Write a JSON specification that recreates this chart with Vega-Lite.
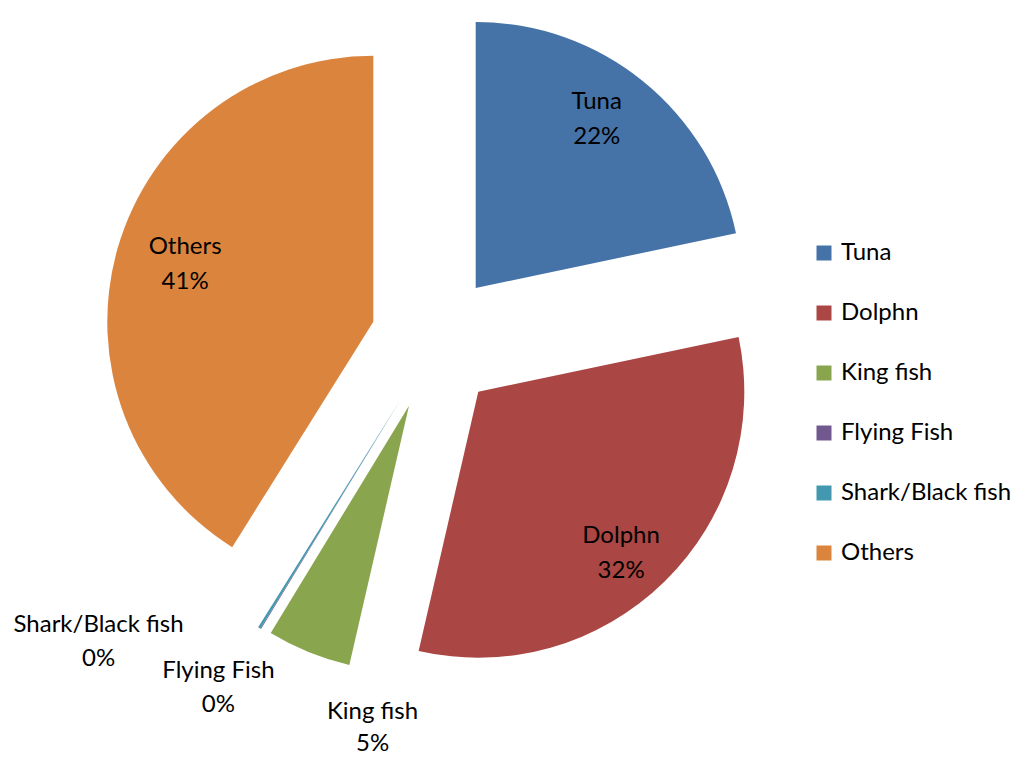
{
  "$schema": "https://vega.github.io/schema/vega-lite/v6.json",
  "width": 1018,
  "height": 757,
  "padding": 0,
  "autosize": {"type": "none"},
  "background": "white",
  "config": {
    "view": {"stroke": null},
    "text": {"font": "Lato", "fontSize": 24, "fill": "#000000"},
    "legend": {
      "orient": "none",
      "legendX": 812,
      "legendY": 241,
      "padding": 0,
      "symbolType": "square",
      "symbolSize": 225,
      "symbolStrokeWidth": 0,
      "symbolOpacity": 1,
      "labelFont": "Lato",
      "labelFontSize": 24,
      "labelColor": "#000000",
      "labelOffset": 5,
      "labelLimit": 400,
      "rowPadding": 36
    }
  },
  "data": {
    "values": [
      {"name": "Tuna", "share": 0.217, "order": 1},
      {"name": "Dolphn", "share": 0.319, "order": 2},
      {"name": "King fish", "share": 0.051, "order": 3},
      {"name": "Flying Fish", "share": 0.0005, "order": 4},
      {"name": "Shark/Black fish", "share": 0.0015, "order": 5},
      {"name": "Others", "share": 0.411, "order": 6}
    ]
  },
  "encoding": {
    "theta": {"field": "share", "type": "quantitative", "stack": true},
    "order": {"field": "order", "type": "quantitative"},
    "detail": {"field": "name", "type": "nominal"}
  },
  "layer": [
    {
      "mark": {"type": "arc", "outerRadius": 266, "xOffset": -33.3, "yOffset": -90.5},
      "encoding": {
        "color": {"field": "name", "type": "nominal", "scale": {"domain": ["Tuna", "Dolphn", "King fish", "Flying Fish", "Shark/Black fish", "Others"], "range": ["#4572A7", "#AA4643", "#89A54E", "#71588F", "#4198AF", "#DB843D"]}, "legend": {"title": null}},
        "fillOpacity": {"condition": {"test": "datum.name === 'Tuna'", "value": 1}, "value": 0}
      }
    },
    {
      "mark": {"type": "arc", "outerRadius": 266, "xOffset": -30.7, "yOffset": 13.2},
      "encoding": {
        "color": {"field": "name", "type": "nominal"},
        "fillOpacity": {"condition": {"test": "datum.name === 'Dolphn'", "value": 1}, "value": 0}
      }
    },
    {
      "mark": {"type": "arc", "outerRadius": 266, "xOffset": -100, "yOffset": 27.2},
      "encoding": {
        "color": {"field": "name", "type": "nominal"},
        "fillOpacity": {"condition": {"test": "datum.name === 'King fish'", "value": 1}, "value": 0}
      }
    },
    {
      "mark": {"type": "arc", "outerRadius": 266, "xOffset": -109.7, "yOffset": 23.2},
      "encoding": {
        "color": {"field": "name", "type": "nominal"},
        "fillOpacity": {"condition": {"test": "datum.name === 'Flying Fish' || datum.name === 'Shark/Black fish'", "value": 1}, "value": 0}
      }
    },
    {
      "mark": {"type": "arc", "outerRadius": 266, "xOffset": -135.7, "yOffset": -56.8},
      "encoding": {
        "color": {"field": "name", "type": "nominal"},
        "fillOpacity": {"condition": {"test": "datum.name === 'Others'", "value": 1}, "value": 0}
      }
    },
    {
      "mark": {"type": "text", "radius": 207, "dx": -42.7, "dy": -115.6},
      "encoding": {"text": {"condition": {"test": "datum.name === 'Tuna'", "field": "name", "type": "nominal"}, "value": ""}}
    },
    {
      "mark": {"type": "text", "radius": 207, "dx": -42.7, "dy": -80.9},
      "encoding": {"text": {"condition": {"test": "datum.name === 'Tuna'", "field": "share", "type": "quantitative", "format": ".0%"}, "value": ""}}
    },
    {
      "mark": {"type": "text", "radius": 207, "dx": -32.9, "dy": 9.8},
      "encoding": {"text": {"condition": {"test": "datum.name === 'Dolphn'", "field": "name", "type": "nominal"}, "value": ""}}
    },
    {
      "mark": {"type": "text", "radius": 207, "dx": -32.9, "dy": 44.8},
      "encoding": {"text": {"condition": {"test": "datum.name === 'Dolphn'", "field": "share", "type": "quantitative", "format": ".0%"}, "value": ""}}
    },
    {
      "mark": {"type": "text", "radius": 207, "dx": -124.9, "dy": -74.7},
      "encoding": {"text": {"condition": {"test": "datum.name === 'Others'", "field": "name", "type": "nominal"}, "value": ""}}
    },
    {
      "mark": {"type": "text", "radius": 207, "dx": -124.9, "dy": -39.7},
      "encoding": {"text": {"condition": {"test": "datum.name === 'Others'", "field": "share", "type": "quantitative", "format": ".0%"}, "value": ""}}
    },
    {
      "mark": {"type": "text", "radius": 300, "dx": -23.4, "dy": 55.7},
      "encoding": {"text": {"condition": {"test": "datum.name === 'King fish'", "field": "name", "type": "nominal"}, "value": ""}}
    },
    {
      "mark": {"type": "text", "radius": 300, "dx": -23.4, "dy": 88.1},
      "encoding": {"text": {"condition": {"test": "datum.name === 'King fish'", "field": "share", "type": "quantitative", "format": ".0%"}, "value": ""}}
    },
    {
      "mark": {"type": "text", "radius": 300, "dx": -134.2, "dy": 36.2},
      "encoding": {"text": {"condition": {"test": "datum.name === 'Flying Fish'", "field": "name", "type": "nominal"}, "value": ""}}
    },
    {
      "mark": {"type": "text", "radius": 300, "dx": -134.2, "dy": 70.2},
      "encoding": {"text": {"condition": {"test": "datum.name === 'Flying Fish'", "field": "share", "type": "quantitative", "format": ".0%"}, "value": ""}}
    },
    {
      "mark": {"type": "text", "radius": 300, "dx": -252.5, "dy": -8.3},
      "encoding": {"text": {"condition": {"test": "datum.name === 'Shark/Black fish'", "field": "name", "type": "nominal"}, "value": ""}}
    },
    {
      "mark": {"type": "text", "radius": 300, "dx": -252.5, "dy": 25},
      "encoding": {"text": {"condition": {"test": "datum.name === 'Shark/Black fish'", "field": "share", "type": "quantitative", "format": ".0%"}, "value": ""}}
    }
  ]
}
